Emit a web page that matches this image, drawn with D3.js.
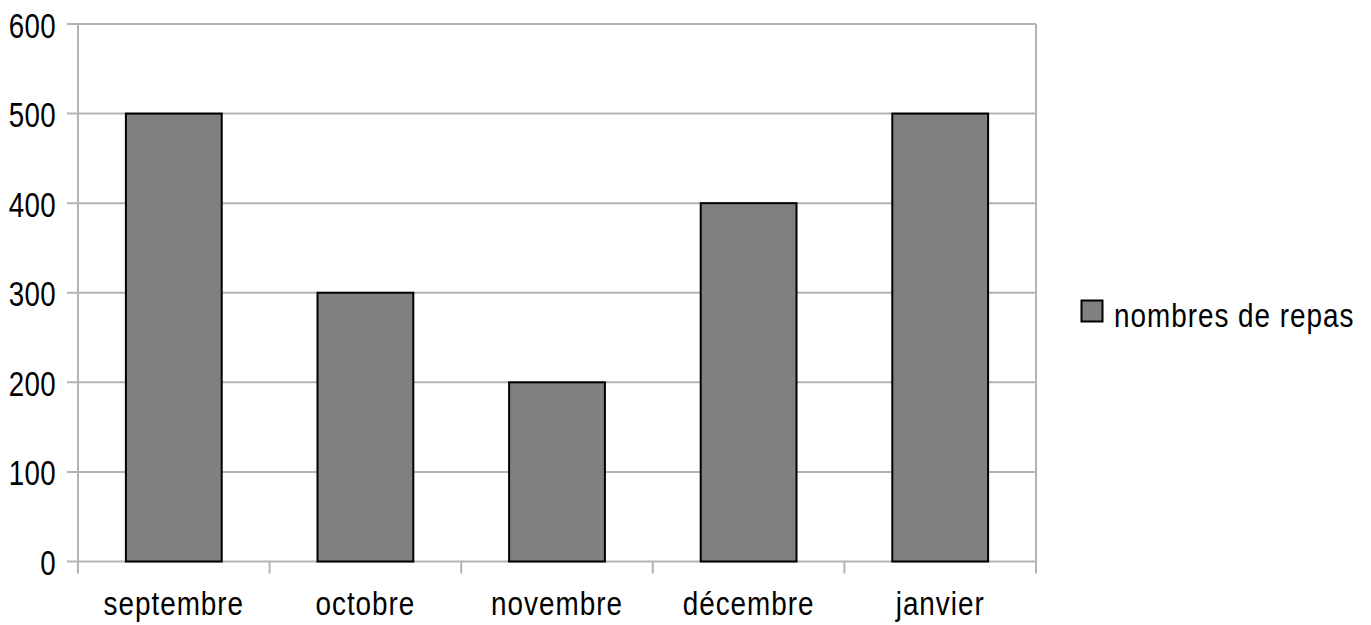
<!DOCTYPE html>
<html><head><meta charset="utf-8">
<script src="https://cdn.jsdelivr.net/npm/d3@7"></script>
<style>body{margin:0;background:#fff}svg text{font-family:"Liberation Sans",Arial,sans-serif;fill:#000}</style>
</head><body><svg id="c" width="1371" height="625"></svg>
<script>
const categories = ["septembre","octobre","novembre","décembre","janvier"];
const values = [500,300,200,400,500];
const yTicks = [0,100,200,300,400,500,600];
const seriesName = "nombres de repas";

const svg = d3.select("#c");
const L=78, R=1036, T=24, B=561.5;
const x = d3.scaleBand().domain(categories).range([L,R]).paddingInner(0.5).paddingOuter(0.25);
const y = d3.scaleLinear().domain([0,600]).range([B,T]);
const grid="#b3b3b3";
const FS=34, SX=0.82;

// gridlines
svg.append("g").selectAll("line").data(yTicks).join("line")
 .attr("x1",L-11).attr("x2",R).attr("y1",d=>y(d)).attr("y2",d=>y(d))
 .attr("stroke",grid).attr("stroke-width",2);
// frame verticals
svg.append("line").attr("x1",L).attr("x2",L).attr("y1",T).attr("y2",B+12).attr("stroke",grid).attr("stroke-width",2);
svg.append("line").attr("x1",R).attr("x2",R).attr("y1",T).attr("y2",B+12).attr("stroke",grid).attr("stroke-width",2);
// category ticks
const step = (R-L)/categories.length;
svg.append("g").selectAll("line").data(d3.range(1,categories.length)).join("line")
 .attr("x1",i=>L+i*step).attr("x2",i=>L+i*step).attr("y1",B).attr("y2",B+12)
 .attr("stroke",grid).attr("stroke-width",2);

// bars
svg.append("g").selectAll("rect").data(values).join("rect")
 .attr("x",(d,i)=>x(categories[i])).attr("width",x.bandwidth())
 .attr("y",d=>y(d)).attr("height",d=>B-y(d))
 .attr("fill","#808080").attr("stroke","#000").attr("stroke-width",2);

// y labels
svg.append("g").selectAll("text").data(yTicks).join("text")
 .attr("transform",d=>`translate(56,${y(d)}) scale(0.78,1)`)
 .attr("dy","0.38em").attr("text-anchor","end")
 .attr("font-size",35.5).attr("letter-spacing",0.5).text(d=>d);
// x labels
svg.append("g").selectAll("text").data(categories).join("text")
 .attr("transform",d=>`translate(${x(d)+x.bandwidth()/2},615) scale(${SX},1)`)
 .attr("text-anchor","middle")
 .attr("font-size",FS).attr("letter-spacing",1.2).text(d=>d);

// legend
svg.append("rect").attr("x",1081.5).attr("y",300.5).attr("width",21).attr("height",21)
 .attr("fill","#808080").attr("stroke","#000").attr("stroke-width",2);
svg.append("text").attr("transform",`translate(1114,327) scale(${SX},1)`)
 .attr("font-size",FS).attr("letter-spacing",1.2).text(seriesName);
</script></body></html>
